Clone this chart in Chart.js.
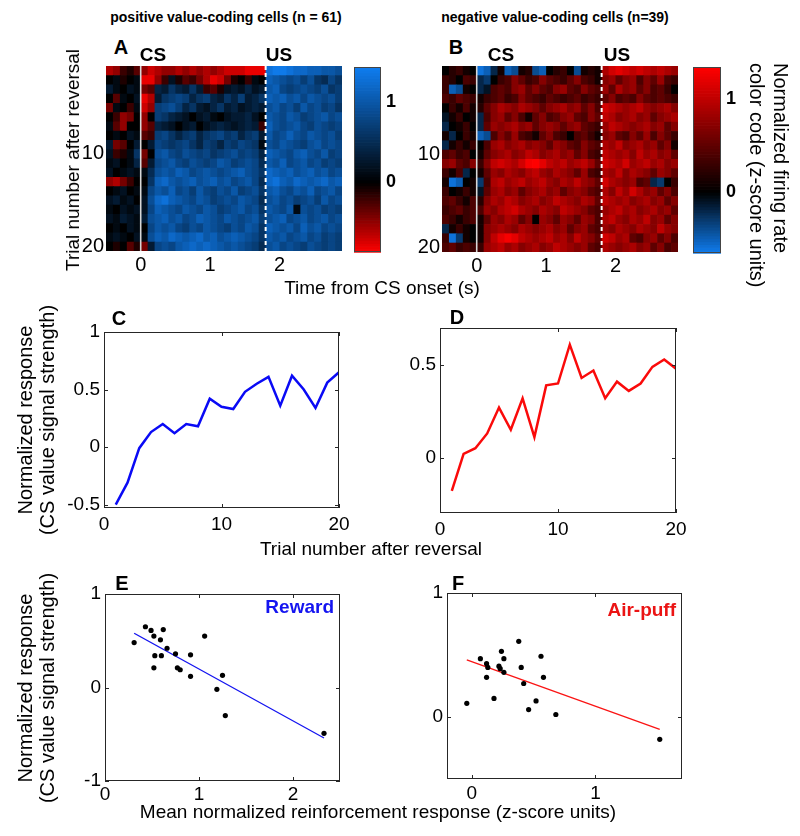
<!DOCTYPE html>
<html><head><meta charset="utf-8">
<script src="https://cdn.jsdelivr.net/npm/chart.js@4.4.1/dist/chart.umd.min.js"></script>
<style>
html,body{margin:0;padding:0;background:#fff;}
#fig{position:relative;width:800px;height:836px;overflow:hidden;background:#fff;font-family:'Liberation Sans',Arial,sans-serif;color:#000;}
#fig canvas{position:absolute;}
.t{position:absolute;white-space:nowrap;}
</style></head><body><div id="fig"></div>
<script>
// ---------------- DATA ----------------
const trials = [1,2,3,4,5,6,7,8,9,10,11,12,13,14,15,16,17,18,19,20];
const timeBins = [-0.45,-0.35,-0.25,-0.15,-0.05,0.05,0.15,0.25,0.35,0.45,0.55,0.65,0.75,0.85,0.95,1.05,1.15,1.25,1.35,1.45,1.55,1.65,1.75,1.85,1.95,2.05,2.15,2.25,2.35,2.45,2.55,2.65,2.75,2.85];
const csTime = 0;
const usTime = 1.8;
const timeTicks = [0,1,2];
const trialTicks = [10,20];

// Panel A: positive value-coding cells (rows = trials, columns = time bins)
const heatA = [
[-0.6,-0.5,-0.2,-0.1,-0.3,-0.5,-0.7,-0.6,-0.5,-0.5,-0.6,-0.5,-0.6,-0.5,-0.6,-0.5,-0.6,-0.7,-0.7,-0.7,-0.8,-0.8,-0.8,1.3,1.4,1.4,1.3,1.2,1.2,1.1,1.1,1.0,1.0,0.9],
[0,0.1,-0.1,0,0.1,-0.8,-0.8,-0.5,-0.2,0.2,-0.1,-0.3,-0.2,-0.4,-0.6,-0.8,-0.7,-0.4,-0.1,0,-0.2,0.1,0,1.1,1.0,0.9,0.8,0.9,0.7,0.9,0.6,0.5,0.8,0.6],
[0.3,0.1,0,0.2,0.1,-0.4,-0.3,0.4,0.3,0.6,0.4,0.3,0.6,0.3,-0.2,-0.3,-0.1,0.2,0.3,0.2,0.4,0.2,0.3,1.0,1.1,0.8,0.7,0.8,0.9,0.8,0.7,0.9,0.6,0.7],
[0,-0.3,0.1,0,0.2,-0.8,-0.6,0.3,0.6,0.7,0.8,0.7,0.4,0.6,0.7,0.4,0.3,0.6,0.4,0.7,0.3,0.4,0.6,1.1,1.0,1.1,0.9,1.0,0.8,1.0,0.9,0.8,0.9,0.7],
[-0.4,0.1,0,-0.2,0.1,-0.7,-0.5,0.7,0.8,0.9,0.7,0.4,0.6,0.3,0.2,0.4,0.6,0.3,0.4,0.2,0.3,0.4,0.3,0.9,1.0,0.8,0.9,0.7,1.0,0.8,0.9,0.7,0.8,0.6],
[0,-0.2,-0.5,-0.4,0,-0.5,0,0.7,0.6,0.4,0.3,0.2,0,0.2,0.3,0.1,0,0.2,0.3,0.3,0.4,0.2,0,1.0,0.9,0.8,1.0,0.9,0.7,0.8,0.9,1.0,0.8,0.9],
[0.1,-0.3,-0.5,0,0,-0.5,-0.3,0.4,0.3,0.2,0,0.2,0.3,0,0.2,0.3,0.4,0.3,0.2,0.3,0.4,0.3,-0.2,1.1,0.9,0.8,0.9,1.0,0.8,0.7,0.9,0.8,0.7,0.8],
[0,0.1,0,0.2,0.1,-0.3,-0.2,0.7,0.8,0.6,0.4,0.6,0.7,0.4,0.6,0.7,0.8,0.6,0.7,0.4,0.6,0.7,0.3,1.0,0.8,0.9,1.1,0.9,0.8,1.0,0.9,0.8,0.9,0.7],
[0.3,-0.4,-0.3,0,0.3,0,0.3,0.8,0.7,0.6,0.7,0.8,0.6,0.4,0.7,0.6,0.4,0.7,0.6,0.8,0.7,0.6,0.1,0.9,0.8,1.0,0.9,0.8,0.7,0.9,1.0,0.8,0.9,0.8],
[0.2,-0.2,-0.1,0.1,0.6,-0.4,0,0.9,1.0,0.8,0.7,0.9,0.8,0.7,0.8,0.6,0.7,0.8,0.9,0.7,0.8,0.7,0.4,1.1,1.0,0.9,0.8,1.0,1.1,0.9,0.8,1.0,0.7,0.8],
[0.1,0.2,0,0.1,0.4,-0.3,0.3,0.8,0.9,1.0,0.8,0.7,0.9,0.8,0.7,0.8,1.0,0.9,0.7,0.8,0.9,0.8,0.5,1.0,0.9,1.1,0.8,0.9,1.0,0.8,0.9,0.7,0.8,0.7],
[0.2,0,0.1,0.2,0.1,0.1,0.5,0.9,1.0,0.9,1.1,1.0,0.8,0.9,1.0,0.9,0.8,0.9,1.0,1.1,0.9,0.8,0.6,1.2,1.1,1.0,1.1,0.9,1.0,1.1,0.9,1.0,0.8,0.9],
[-0.5,-0.6,-0.4,-0.2,0,0,0.6,1.1,1.2,1.0,0.9,1.0,1.1,0.9,1.0,1.1,0.9,1.0,0.8,0.9,1.0,0.8,0.5,1.2,1.3,1.1,1.0,1.2,1.1,1.0,1.1,1.2,1.0,1.1],
[0,0.1,0.2,0,0.1,0.1,0.8,1.0,0.9,1.1,0.8,0.9,0.7,1.0,0.8,0.7,0.9,0.8,1.0,0.7,0.8,0.9,0.6,1.0,1.1,0.9,0.8,1.0,0.9,1.1,0.8,0.9,1.0,0.8],
[0.2,0.3,0.1,0.2,0,0.2,0.9,1.2,1.3,1.1,1.0,0.9,0.8,1.0,0.9,0.7,0.8,0.9,0.8,1.0,0.9,0.8,0.5,0.9,1.0,0.8,0.9,0.7,0.8,0.9,0.7,1.0,0.8,0.9],
[0.1,0,0.2,0.1,0.2,0.2,0.8,1.1,1.0,0.9,0.8,1.0,0.9,0.8,1.0,0.9,0.7,0.8,0.9,1.0,0.8,0.9,0.6,1.0,0.9,0.8,1.0,0.1,0.9,0.8,0.9,0.7,0.8,0.7],
[0.2,0.1,0.3,0.2,0.1,0.3,0.9,1.0,1.1,0.9,1.0,0.8,0.9,1.1,1.0,0.9,0.8,1.0,0.9,0.8,0.9,1.0,0.7,0.9,1.0,1.1,0.8,0.9,1.0,0.8,0.9,1.0,0.8,0.9],
[0,0.1,0,0.2,0.1,0,0.8,1.0,0.9,1.0,0.8,0.7,0.9,0.8,1.0,0.9,0.8,0.7,0.9,0.8,1.0,0.9,0.6,1.1,1.0,0.9,1.0,0.8,1.1,0.9,1.0,0.8,0.9,0.8],
[0.1,0.2,0.1,0,0.2,0.1,0.9,1.1,1.0,1.2,1.1,1.0,1.1,1.2,1.0,1.1,0.9,1.0,1.1,1.0,0.9,0.8,0.6,1.0,0.9,1.0,0.8,0.9,1.0,0.8,0.9,0.7,0.8,0.7],
[0,-0.1,0,-0.3,-0.1,-0.4,0.3,0.8,0.9,0.8,1.0,1.1,1.2,1.1,1.2,1.1,1.0,0.9,1.0,0.9,0.8,0.7,0.5,0.9,1.0,0.8,0.9,0.8,0.7,0.9,0.8,0.7,0.8,0.7]
];

// Panel B: negative value-coding cells
const heatB = [
[0,0.2,0.3,0.1,0,-0.6,-0.5,-0.2,0.1,-0.5,-0.4,0.1,0.2,-0.4,-0.5,0,0.2,0.3,0,-0.4,0.1,0.2,0.1,0.9,1.1,1.2,1.1,1.0,1.1,1.0,0.9,1.0,0.9,0.8],
[0.3,0.2,0,0.4,0.3,-0.2,-0.3,0,0.3,0.4,0.7,0.5,0.3,0.4,0.7,0.5,0.4,0.3,0.5,0.7,0.4,0.3,0.1,0.7,0.8,0.5,0.7,0.8,0.4,0.7,0.5,0.8,0.4,0.3],
[0.3,-0.5,-0.4,0.1,0,-0.2,-0.1,0.4,0.5,0.4,0.7,0.8,0.5,0.7,0.5,0.4,0.7,0.8,0.5,0.4,0.7,0.5,0.4,0.8,0.5,0.9,0.7,0.8,0.5,0.7,0.4,0.5,0.3,0],
[0.4,0.3,0.5,0.4,0.3,0.1,0.3,0.4,0.5,0.3,0.4,0.7,0.5,0.4,0.3,0.5,0.4,0.3,0.4,0.5,0.3,0.4,0.3,0.5,0.7,0.4,0.5,0.4,0.7,0.5,0.4,0.5,0.4,0.3],
[0,0.3,0.1,0.4,0.1,0.2,0.5,0.7,0.9,0.8,0.7,0.9,0.8,0.7,0.5,0.7,0.8,0.9,0.7,0.8,0.5,0.7,0.4,1.1,1.0,0.9,0.8,0.9,1.0,0.8,0.7,0.8,0.9,0.7],
[-0.1,0.1,0.3,0,0.1,-0.2,0.4,0.7,0.8,0.5,0.7,0.4,0.1,0.5,0.7,0.4,0.5,0.7,0.8,0.5,0.4,0.7,0.5,1.0,0.9,0.7,0.8,0.9,0.7,0.8,0.5,0.7,0.8,0.9],
[-0.2,0,0.1,0.3,0,-0.2,0.5,0.8,0.7,0.8,0.9,0.7,0.8,0.5,0.7,0.8,0.7,0.5,0.7,0.8,0.5,0.4,0.3,0.8,1.0,0.9,0.8,0.7,0.8,0.9,0.7,0.8,0.5,0.7],
[0.1,-0.2,0,0.3,0.1,-0.5,-0.4,0.4,0.7,0.5,0.8,0.4,0.3,0.1,0.5,0.7,0.4,0.3,0,0.4,0.5,0.3,0.1,0.7,0.8,0.5,0.4,0.7,0.5,0.8,0.4,0.7,0.5,0.3],
[-0.2,0.1,0.3,0.1,0.3,0,0.4,0.8,0.9,0.7,0.8,0.9,0.7,0.8,0.7,0.5,0.8,0.7,0.5,0.4,0.7,0.5,0.4,0.9,0.8,1.0,0.7,0.8,0.9,0.7,0.8,0.5,0.7,0.1],
[0.4,0.5,0.3,0.4,0,0.1,0.5,0.7,0.8,0.9,0.7,0.8,1.0,0.9,0.7,0.8,0.9,0.7,0.8,0.5,0.7,0.4,0.3,1.0,0.9,0.8,0.9,0.7,1.0,0.8,0.9,0.7,0.8,0.5],
[0.7,0.8,0.5,0.4,0.7,0.3,0.7,1.0,1.1,1.0,0.9,1.1,1.3,1.4,1.2,1.0,0.9,1.0,0.8,0.9,1.0,0.8,0.5,1.1,1.0,0.9,1.1,0.8,0.9,1.0,0.8,0.9,0.7,0.8],
[0.3,0.1,0.4,-0.2,0,0.1,0.5,0.8,0.7,0.9,0.8,0.7,0.9,1.0,0.8,0.7,0.9,0.8,0.7,0.5,0.8,0.4,0.3,0.9,0.8,1.0,0.7,0.9,0.8,0.7,0.5,0.8,0.7,0.5],
[0.1,-0.6,-0.5,0,0.1,-0.3,0.4,0.9,1.0,0.8,0.9,1.0,0.8,0.9,1.0,0.8,0.7,0.9,0.8,1.0,0.8,0.7,0.5,1.1,0.9,0.8,0.7,0.8,0.4,0.5,-0.2,-0.3,0,0.3],
[0.3,0,0.1,0.3,0.1,-0.1,0.5,0.8,0.9,0.7,0.8,0.5,0.7,0.8,0.9,0.7,0.8,0.5,0.7,0.8,0.7,0.5,0.4,0.9,0.7,1.0,0.8,1.1,0.9,0.7,0.8,0.5,0.7,0.4],
[0.4,0.5,0.3,0.1,0.4,0.2,0.7,0.9,0.8,1.0,0.9,0.7,0.8,0.9,0.7,0.8,1.0,0.9,0.8,0.7,0.9,0.8,0.5,1.0,0.9,0.8,0.9,0.7,0.8,0.9,0.7,0.8,0.5,0.7],
[0.3,0.4,0.5,0.3,0.4,0.4,0.8,0.7,0.9,1.0,1.1,0.9,0.8,0.7,0.9,0.8,0.7,1.0,0.9,0.8,0.7,0.5,0.4,0.8,0.9,1.0,0.8,0.9,0.7,0.8,0.9,0.7,0.8,0.5],
[0.4,0.3,0.1,0.3,0.4,0.1,0.5,0.8,0.7,0.9,0.8,0.5,0.7,0,0.8,0.7,0.5,0.8,0.7,0.5,0.8,0.7,0.4,0.9,1.0,0.8,0.7,0.9,0.8,1.0,0.7,0.8,0.5,0.7],
[-0.2,0.1,0.3,0.1,0,0.1,0.7,0.8,0.9,0.8,0.7,0.9,0.8,0.7,0.8,0.9,0.7,0.8,0.5,0.7,0.8,0.5,0.4,0.8,0.7,0.9,0.8,0.7,0.9,0.8,0.7,1.0,0.8,0.7],
[0.3,-0.6,-0.3,0.1,0,0.1,0.7,1.0,1.2,1.3,1.2,1.0,0.9,0.8,0.9,1.0,0.8,0.9,0.7,1.0,0.8,0.7,0.5,1.1,1.0,0.8,0.9,0.5,0.4,0.7,0.8,0.5,0.7,0.4],
[0.4,0.5,0.3,0.4,0.3,0.3,0.8,0.9,1.0,0.8,0.9,0.7,0.8,0.9,0.7,0.8,1.0,0.9,0.8,0.7,0.8,0.5,0.4,0.9,0.8,0.7,0.8,0.9,0.7,0.8,0.5,0.7,0.4,0.5]
];

// Colour-bar ranges (z-score units) and ticks
const cbarA = [-0.875, 1.44];
const cbarB = [-0.66, 1.34];
const cbarTicks = [0, 1];

// Panels C / D: normalized CS value signal per trial
const posResponse = [-0.5,-0.31,-0.01,0.13,0.2,0.12,0.2,0.18,0.42,0.35,0.33,0.48,0.55,0.61,0.36,0.62,0.5,0.34,0.56,0.65];
const negResponse = [-0.18,0.02,0.05,0.13,0.27,0.15,0.32,0.11,0.39,0.4,0.61,0.43,0.47,0.32,0.41,0.36,0.4,0.49,0.53,0.48];
const cYTicks = [-0.5,0,0.5,1];
const dYTicks = [0,0.5];
const trialAxisTicks = [0,10,20];

// Panel E: reward
const rewardX = [0.31,0.43,0.49,0.52,0.62,0.59,0.66,0.53,0.60,0.52,0.75,0.77,0.80,0.91,0.91,1.06,1.25,1.19,1.28,2.33];
const rewardY = [0.48,0.65,0.61,0.55,0.62,0.51,0.42,0.34,0.34,0.21,0.36,0.21,0.19,0.35,0.12,0.55,0.13,-0.02,-0.30,-0.49];
const rewardFitX = [0.31, 2.33];
const rewardFitY = [0.58, -0.54];
// Panel F: air-puff
const airX = [-0.04,0.07,0.12,0.13,0.12,0.18,0.24,0.26,0.22,0.23,0.26,0.38,0.40,0.42,0.46,0.52,0.56,0.58,0.68,1.52];
const airY = [0.11,0.47,0.43,0.40,0.32,0.15,0.53,0.47,0.41,0.39,0.36,0.61,0.40,0.27,0.06,0.13,0.49,0.32,0.02,-0.18];
const airFitX = [-0.04, 1.52];
const airFitY = [0.46, -0.10];
const eXTicks = [0,1,2], eYTicks = [-1,0,1];
const fXTicks = [0,1], fYTicks = [0,1];

// ---------------- RENDERING ----------------
const FONT = "'Liberation Sans', Arial, sans-serif";
const fig = document.getElementById('fig');
const RED = [255,0,0], BLUE = [15,125,240];

function divColor(v, lo, hi, negRGB, posRGB) {
  let c;
  if (v >= 0) { const t = Math.min(v / hi, 1); c = posRGB.map(k => Math.round(k * t)); }
  else { const t = Math.min(v / lo, 1); c = negRGB.map(k => Math.round(k * t)); }
  return 'rgb(' + c.join(',') + ')';
}
const cmaps = {
  A: v => divColor(v, cbarA[0], cbarA[1], RED, BLUE),
  B: v => divColor(v, cbarB[0], cbarB[1], BLUE, RED)
};

const heatPlugin = {
  id: 'heat',
  beforeDatasetsDraw(chart, args, opts) {
    if (!opts || !opts.cmap) return;
    const cmap = cmaps[opts.cmap];
    const {ctx, chartArea: a, scales: {x, y}} = chart;
    ctx.save();
    ctx.beginPath(); ctx.rect(a.left, a.top, a.right - a.left, a.bottom - a.top); ctx.clip();
    chart.data.datasets[0].data.forEach(p => {
      const x0 = x.getPixelForValue(p.x - opts.binW / 2), x1 = x.getPixelForValue(p.x + opts.binW / 2);
      const y0 = y.getPixelForValue(p.y - 0.5), y1 = y.getPixelForValue(p.y + 0.5);
      ctx.fillStyle = cmap(p.v);
      ctx.fillRect(Math.min(x0, x1), Math.min(y0, y1), Math.abs(x1 - x0) + 0.7, Math.abs(y1 - y0) + 0.7);
    });
    const xc = x.getPixelForValue(opts.cs);
    ctx.strokeStyle = 'rgb(215,215,215)'; ctx.lineWidth = 1.6;
    ctx.beginPath(); ctx.moveTo(xc, a.top); ctx.lineTo(xc, a.bottom); ctx.stroke();
    const xu = x.getPixelForValue(opts.us);
    ctx.strokeStyle = '#ffffff'; ctx.lineWidth = 2; ctx.setLineDash([4, 3]);
    ctx.beginPath(); ctx.moveTo(xu, a.top); ctx.lineTo(xu, a.bottom); ctx.stroke();
    ctx.restore();
  }
};

const cbarPlugin = {
  id: 'cbar',
  beforeDatasetsDraw(chart, args, opts) {
    if (!opts || !opts.cmap) return;
    const cmap = cmaps[opts.cmap];
    const {ctx, chartArea: a, scales: {y}} = chart;
    const n = 64, lo = y.min, hi = y.max;
    ctx.save();
    for (let i = 0; i < n; i++) {
      const v0 = lo + (hi - lo) * i / n, v1 = lo + (hi - lo) * (i + 1) / n;
      const p0 = y.getPixelForValue(v0), p1 = y.getPixelForValue(v1);
      ctx.fillStyle = cmap((v0 + v1) / 2);
      ctx.fillRect(a.left, Math.min(p0, p1), a.right - a.left, Math.abs(p1 - p0) + 0.7);
    }
    ctx.strokeStyle = '#444'; ctx.lineWidth = 1;
    ctx.strokeRect(a.left + 0.5, a.top + 0.5, a.right - a.left - 1, a.bottom - a.top - 1);
    ctx.restore();
  }
};

const boxPlugin = {
  id: 'mbox',
  afterDatasetsDraw(chart, args, opts) {
    if (!opts || !opts.on) return;
    const {ctx, chartArea: a, scales: {x, y}} = chart;
    ctx.save();
    ctx.strokeStyle = '#262626'; ctx.lineWidth = 1;
    ctx.strokeRect(a.left + 0.5, a.top + 0.5, a.right - a.left - 1, a.bottom - a.top - 1);
    ctx.beginPath();
    const L = 4;
    x.ticks.forEach(t => {
      const px = Math.round(x.getPixelForValue(t.value)) + 0.5;
      ctx.moveTo(px, a.bottom); ctx.lineTo(px, a.bottom - L);
      ctx.moveTo(px, a.top); ctx.lineTo(px, a.top + L);
    });
    y.ticks.forEach(t => {
      const py = Math.round(y.getPixelForValue(t.value)) + 0.5;
      ctx.moveTo(a.left, py); ctx.lineTo(a.left + L, py);
      ctx.moveTo(a.right, py); ctx.lineTo(a.right - L, py);
    });
    ctx.stroke();
    ctx.restore();
  }
};

// area = plot rectangle in page px; m = canvas margins around it; side = which margins hold an axis box
function mkChart(area, m, side, config) {
  const w = area.r - area.l + m.left + m.right;
  const h = area.b - area.t + m.top + m.bottom;
  const cv = document.createElement('canvas');
  cv.width = w; cv.height = h;
  cv.style.left = (area.l - m.left) + 'px';
  cv.style.top = (area.t - m.top) + 'px';
  cv.style.width = w + 'px'; cv.style.height = h + 'px';
  fig.appendChild(cv);
  const o = config.options || {};
  o.responsive = false; o.animation = false; o.devicePixelRatio = 1; o.events = [];
  o.layout = {padding: {
    left: side.left ? 0 : m.left, right: side.right ? 0 : m.right,
    top: side.top ? 0 : m.top, bottom: side.bottom ? 0 : m.bottom }};
  o.plugins = Object.assign({legend: {display: false}, tooltip: {enabled: false}}, o.plugins || {});
  config.options = o;
  return new Chart(cv.getContext('2d'), config);
}

function axis(min, max, tickVals, o) {
  o = o || {};
  const box = o.box || 0;
  const a = {
    type: 'linear', min: min, max: max, reverse: !!o.reverse, display: o.display !== false,
    grid: {display: false, drawTicks: false, tickLength: 0}, border: {display: false},
    afterBuildTicks: s => { s.ticks = tickVals.map(v => ({value: v})); },
    afterFit: s => {
      if (s.isHorizontal()) s.height = box; else s.width = box;
      s.paddingLeft = 0; s.paddingRight = 0; s.paddingTop = 0; s.paddingBottom = 0;
    },
    ticks: {autoSkip: false, maxRotation: 0, minRotation: 0, padding: (o.pad === undefined ? 4 : o.pad), color: '#000',
      font: {family: FONT, size: o.size || 19, weight: o.weight || 'normal'}, callback: v => String(v)}
  };
  if (o.position) a.position = o.position;
  return a;
}

function heatPoints(rows) {
  const pts = [];
  rows.forEach((row, i) => row.forEach((v, j) => pts.push({x: timeBins[j], y: trials[i], v: v})));
  return pts;
}
function xy(xs, ys) { return xs.map((x, i) => ({x: x, y: ys[i]})); }

// Heatmaps A and B
[[heatA, 'A', {l:106,t:66,r:342,b:251}], [heatB, 'B', {l:442,t:66,r:678,b:252}]].forEach(([rows, key, area]) => {
  mkChart(area, {left:40, top:6, right:8, bottom:30}, {left:true, bottom:true}, {
    type: 'scatter',
    data: {datasets: [{data: heatPoints(rows), pointRadius: 0, pointHoverRadius: 0}]},
    options: {
      scales: {
        x: axis(-0.5, 2.9, timeTicks, {pad: 2, size: 20, box: 30}),
        y: axis(0.5, 20.5, trialTicks, {reverse: true, pad: 2, size: 20, box: 40})
      },
      plugins: {heat: {cmap: key, binW: 0.1, cs: csTime, us: usTime}}
    },
    plugins: [heatPlugin]
  });
});

// Colour bars
[[cbarA, 'A', {l:354,t:67,r:381,b:252}], [cbarB, 'B', {l:693,t:67,r:721,b:253}]].forEach(([rng, key, area]) => {
  mkChart(area, {left:2, top:12, right:28, bottom:12}, {right:true}, {
    type: 'scatter',
    data: {datasets: []},
    options: {
      scales: {
        x: axis(0, 1, [], {display: false, box: 0}),
        y: axis(rng[0], rng[1], cbarTicks, {position: 'right', pad: 5, size: 18, weight: 'bold', box: 28})
      },
      plugins: {cbar: {cmap: key}}
    },
    plugins: [cbarPlugin]
  });
});

// Panel C
mkChart({l:104,t:332,r:339,b:508}, {left:50, top:14, right:16, bottom:34}, {left:true, bottom:true}, {
  type: 'scatter',
  data: {datasets: [{data: xy(trials, posResponse), showLine: true, borderColor: 'rgb(10,10,245)', borderWidth: 2.5, pointRadius: 0, tension: 0}]},
  options: {
    scales: {x: axis(0, 20, trialAxisTicks, {pad: 5, box: 34}), y: axis(-0.53, 1, cYTicks, {pad: 4, box: 50})},
    plugins: {mbox: {on: true}}
  },
  plugins: [boxPlugin]
});
// Panel D
mkChart({l:440,t:328,r:676,b:513}, {left:50, top:14, right:16, bottom:34}, {left:true, bottom:true}, {
  type: 'scatter',
  data: {datasets: [{data: xy(trials, negResponse), showLine: true, borderColor: 'rgb(250,10,10)', borderWidth: 2.5, pointRadius: 0, tension: 0}]},
  options: {
    scales: {x: axis(0, 20, trialAxisTicks, {pad: 5, box: 34}), y: axis(-0.3, 0.7, dYTicks, {pad: 4, box: 50})},
    plugins: {mbox: {on: true}}
  },
  plugins: [boxPlugin]
});
// Panel E
mkChart({l:105,t:594,r:340,b:781}, {left:40, top:14, right:10, bottom:30}, {left:true, bottom:true}, {
  type: 'scatter',
  data: {datasets: [
    {data: xy(rewardX, rewardY), pointRadius: 2.6, backgroundColor: '#000', borderWidth: 0},
    {data: xy(rewardFitX, rewardFitY), showLine: true, borderColor: 'rgb(20,20,240)', borderWidth: 1.3, pointRadius: 0}
  ]},
  options: {
    scales: {x: axis(0, 2.5, eXTicks, {pad: 2, box: 30}), y: axis(-1, 1, eYTicks, {pad: 4, box: 40})},
    plugins: {mbox: {on: true}}
  },
  plugins: [boxPlugin]
});
// Panel F
mkChart({l:447,t:593,r:682,b:779}, {left:40, top:14, right:10, bottom:30}, {left:true, bottom:true}, {
  type: 'scatter',
  data: {datasets: [
    {data: xy(airX, airY), pointRadius: 2.6, backgroundColor: '#000', borderWidth: 0},
    {data: xy(airFitX, airFitY), showLine: true, borderColor: 'rgb(250,20,20)', borderWidth: 1.3, pointRadius: 0}
  ]},
  options: {
    scales: {x: axis(-0.2, 1.7, fXTicks, {pad: 3, box: 30}), y: axis(-0.5, 1, fYTicks, {pad: 4, box: 40})},
    plugins: {mbox: {on: true}}
  },
  plugins: [boxPlugin]
});

// ---------------- TEXT ----------------
function txt(lines, o) {
  const d = document.createElement('div');
  d.className = 't';
  lines.forEach((l, i) => { if (i) d.appendChild(document.createElement('br')); d.appendChild(document.createTextNode(l)); });
  d.style.fontSize = o.size + 'px';
  d.style.lineHeight = (o.lh || Math.round(o.size * 1.15)) + 'px';
  if (o.bold) d.style.fontWeight = 'bold';
  if (o.color) d.style.color = o.color;
  d.style.left = o.x + 'px'; d.style.top = o.y + 'px';
  d.style.textAlign = o.align || 'center';
  let tf = '';
  if (o.anchor === 'right') tf = 'translate(-100%,-50%)';
  else if (o.anchor === 'topleft') { d.style.transformOrigin = '0 0'; }
  else tf = 'translate(-50%,-50%)';
  if (o.rot) tf += ' rotate(' + o.rot + 'deg)';
  d.style.transform = tf;
  fig.appendChild(d);
}
txt(['positive value-coding cells (n = 61)'], {x:226, y:17, size:14, bold:true});
txt(['negative value-coding cells (n=39)'], {x:555, y:17, size:14, bold:true});
txt(['A'], {x:121, y:47, size:20, bold:true});
txt(['B'], {x:456, y:47, size:20, bold:true});
txt(['CS'], {x:153, y:55, size:19, bold:true});
txt(['US'], {x:279, y:55, size:19, bold:true});
txt(['CS'], {x:501, y:55, size:19, bold:true});
txt(['US'], {x:617, y:55, size:19, bold:true});
txt(['Trial number after reversal'], {x:73, y:160, size:19, rot:-90});
txt(['Time from CS onset (s)'], {x:382, y:288, size:19});
txt(['Normalized firing rate', 'color code (z-score units)'], {x:793, y:63, size:20, lh:24, anchor:'topleft', rot:90, align:'left'});
txt(['C'], {x:119, y:318, size:20, bold:true});
txt(['D'], {x:457, y:317, size:20, bold:true});
txt(['Normalized response', '(CS value signal strength)'], {x:36, y:420, size:20, lh:22, rot:-90});
txt(['Trial number after reversal'], {x:371, y:549, size:19});
txt(['E'], {x:122, y:583, size:20, bold:true});
txt(['F'], {x:458, y:583, size:20, bold:true});
txt(['Normalized response', '(CS value signal strength)'], {x:36, y:688, size:20, lh:22, rot:-90});
txt(['Reward'], {x:334, y:607, size:19, bold:true, color:'rgb(20,20,240)', anchor:'right'});
txt(['Air-puff'], {x:676, y:610, size:19, bold:true, color:'rgb(235,20,20)', anchor:'right'});
txt(['Mean normalized reinforcement response (z-score units)'], {x:378, y:812, size:19});
</script></body></html>
